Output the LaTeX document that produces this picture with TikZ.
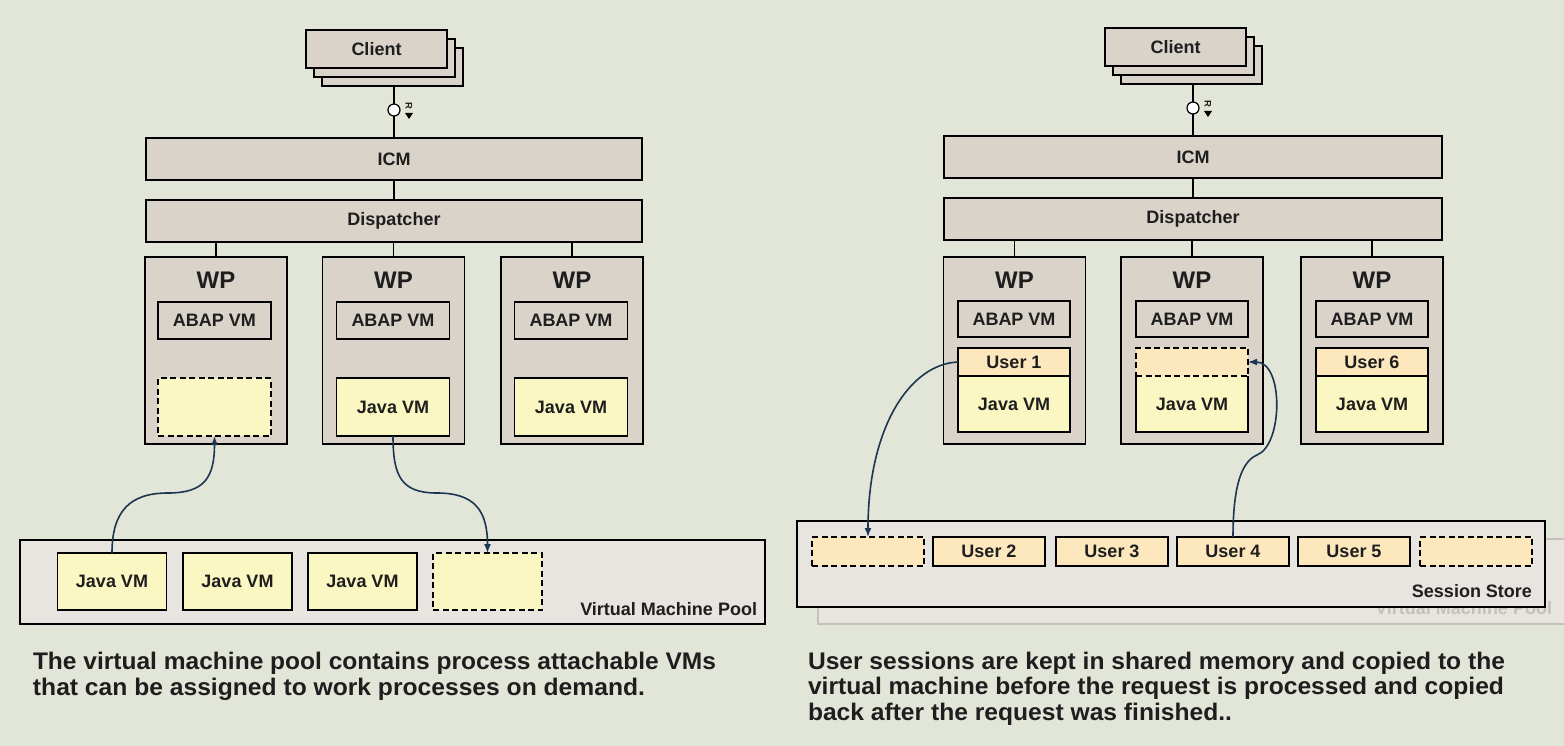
\documentclass[tikz,border=0pt]{standalone}
\usepackage{fontspec}
\setmainfont{Liberation Sans}
\usetikzlibrary{arrows.meta}
\definecolor{bg}{HTML}{E2E6D9}
\definecolor{boxfill}{HTML}{D9D3CA}
\definecolor{vmfill}{HTML}{FBF7C3}
\definecolor{userfill}{HTML}{FDE8BD}
\definecolor{poolfill}{HTML}{E8E4DF}
\definecolor{arrowc}{HTML}{1C3550}
\definecolor{txt}{HTML}{1E1E1E}
\definecolor{faint}{HTML}{C6C1B8}
\begin{document}
\begin{tikzpicture}[x=1pt,y=-1pt,
  every node/.style={inner sep=0pt, outer sep=0pt, text=txt},
  lbl/.style={font=\fontsize{18}{20}\selectfont\bfseries},
  gbox/.style={draw=black, line width=1.6pt, fill=boxfill, lbl},
  vmbox/.style={draw=black, line width=1.6pt, fill=vmfill, lbl},
  userbox/.style={draw=black, line width=1.6pt, fill=userfill, lbl},
  dashbox/.style={dash pattern=on 6pt off 3.5pt},
  poolbox/.style={draw=black, line width=1.6pt, fill=poolfill},
  faintbox/.style={draw=faint, line width=1.6pt, fill=poolfill},
  conn/.style={draw=black, line width=1.8pt},
  flow/.style={draw=arrowc, line width=1.6pt, -{Latex[length=9pt,width=7pt]}},
  iface/.style={circle, draw=black, fill=white, line width=1.2pt, minimum size=12pt},
  rsym/.style={rotate=-90, font=\fontsize{9.5}{9.5}\selectfont\bfseries},
  wplbl/.style={font=\fontsize{24}{26}\selectfont\bfseries},
  captxt/.style={font=\fontsize{24}{26}\selectfont\bfseries, anchor=base west},
  clientbox/.style={gbox, minimum width=141pt, minimum height=38pt},
  wpbox/.style={gbox, minimum width=142pt, minimum height=187pt},
  abapbox/.style={gbox, minimum width=113pt, minimum height=37pt},
  jvmbox/.style={vmbox, minimum width=113pt, minimum height=58pt},
  pvmbox/.style={vmbox, minimum width=109pt, minimum height=57pt},
  ubox/.style={userbox, minimum width=112pt, minimum height=28pt},
  rjvmbox/.style={vmbox, minimum width=112pt, minimum height=56pt},
  ssbox/.style={userbox, minimum width=112pt, minimum height=29pt}
]
\useasboundingbox (0,0) rectangle (1564,746);
\fill[bg] (0,0) rectangle (1564,746);

% ================= LEFT =================
\node[clientbox] (cl3) at (392.5,67) {};
\node[clientbox] (cl2) at (384.5,58) {};
\node[clientbox] (cl1) at (376.5,49) {Client};
\node[iface] (if1) at (394,110) {};
\node[rsym] (r1) at (409,106) {R};
\fill[black] (405,113) -- (413,113) -- (409,119) -- cycle;
\node[gbox, minimum width=496pt, minimum height=42pt] (icm1) at (394,159) {ICM};
\node[gbox, minimum width=496pt, minimum height=42pt] (disp1) at (394,221) {Dispatcher};
\draw[conn] (if1 |- cl3.south) -- (if1.north);
\draw[conn] (if1.south) -- (if1 |- icm1.north);
\draw[conn] (icm1) -- (disp1);

\node[wpbox] (wp1) at (216,350.5) {};
\node[wpbox] (wp2) at (393.5,350.5) {};
\node[wpbox] (wp3) at (572,350.5) {};
\foreach \w in {wp1,wp2,wp3} \draw[conn] (\w.north) -- (\w.north |- disp1.south);
\node[wplbl] (wpl1) at (216,280) {WP};
\node[wplbl] (wpl2) at (393.5,280) {WP};
\node[wplbl] (wpl3) at (572,280) {WP};
\node[abapbox] (ab1) at (214.5,320.5) {ABAP VM};
\node[abapbox] (ab2) at (393,320.5) {ABAP VM};
\node[abapbox] (ab3) at (571,320.5) {ABAP VM};
\node[jvmbox, dashbox] (slot1) at (214.5,407) {};
\node[jvmbox] (jv2) at (393,407) {Java VM};
\node[jvmbox] (jv3) at (571,407) {Java VM};

\node[poolbox, minimum width=745pt, minimum height=84pt] (pool1) at (392.5,582) {};
\node[lbl, anchor=base east] (pool1t) at (757,615) {Virtual Machine Pool};
\node[pvmbox] (pvm1) at (112,581.5) {Java VM};
\node[pvmbox] (pvm2) at (237.5,581.5) {Java VM};
\node[pvmbox] (pvm3) at (362.5,581.5) {Java VM};
\node[pvmbox, dashbox] (pvm4) at (487.5,581.5) {};

\coordinate (la1) at (168,493);
\draw[flow] (pvm1.north) .. controls +(0,-42) and +(-38,0) .. (la1) .. controls +(36,0) and +(0,42) .. (slot1.south);
\coordinate (la2) at (437,493);
\draw[flow] (jv2.south) .. controls +(0,40) and +(-36,0) .. (la2) .. controls +(38,0) and +(0,-42) .. (pvm4.north);

\node[captxt] (capL1) at (33,669) {\resizebox{683pt}{\height}{The virtual machine pool contains process attachable VMs}};
\node[captxt] (capL2) at (33,695) {\resizebox{612pt}{\height}{that can be assigned to work processes on demand.}};

% ================= RIGHT =================
\node[clientbox] (cr3) at (1191.5,65) {};
\node[clientbox] (cr2) at (1183.5,56) {};
\node[clientbox] (cr1) at (1175.5,47) {Client};
\node[iface] (if2) at (1193,108) {};
\node[rsym] (r2) at (1208,104) {R};
\fill[black] (1204,111) -- (1212,111) -- (1208,117) -- cycle;
\node[gbox, minimum width=498pt, minimum height=42pt] (icm2) at (1193,157) {ICM};
\node[gbox, minimum width=498pt, minimum height=42pt] (disp2) at (1193,219) {Dispatcher};
\draw[conn] (if2 |- cr3.south) -- (if2.north);
\draw[conn] (if2.south) -- (if2 |- icm2.north);
\draw[conn] (icm2) -- (disp2);

\node[wpbox] (wp4) at (1014.5,350.5) {};
\node[wpbox] (wp5) at (1192,350.5) {};
\node[wpbox] (wp6) at (1372,350.5) {};
\foreach \w in {wp4,wp5,wp6} \draw[conn] (\w.north) -- (\w.north |- disp2.south);
\node[wplbl] (wpl4) at (1014.5,280) {WP};
\node[wplbl] (wpl5) at (1192,280) {WP};
\node[wplbl] (wpl6) at (1372,280) {WP};
\node[abapbox, minimum width=112pt, minimum height=36pt] (ab4) at (1014,319) {ABAP VM};
\node[abapbox, minimum width=112pt, minimum height=36pt] (ab5) at (1192,319) {ABAP VM};
\node[abapbox, minimum width=112pt, minimum height=36pt] (ab6) at (1372,319) {ABAP VM};
\node[rjvmbox] (jv4) at (1014,404) {Java VM};
\node[ubox] (u1) at (1014,362) {User 1};
\node[rjvmbox, draw=none] (jv5) at (1192,404) {Java VM};
\draw[conn, line width=1.6pt] (jv5.north west) -- (jv5.south west) -- (jv5.south east) -- (jv5.north east);
\node[ubox, dashbox] (u2) at (1192,362) {};
\node[rjvmbox] (jv6) at (1372,404) {Java VM};
\node[ubox] (u6) at (1372,362) {User 6};

\node[faintbox, anchor=north west, minimum width=780pt, minimum height=85pt] (vmp2) at (818,539) {};
\node[lbl, text=faint, anchor=base east] (vmp2t) at (1552,614) {Virtual Machine Pool};
\node[poolbox, minimum width=748pt, minimum height=86pt] (ss) at (1171,564) {};
\node[lbl, anchor=base east] (sst) at (1532,597) {Session Store};
\node[ssbox, dashbox] (ss1) at (868,551.5) {};
\node[ssbox] (ss2) at (989,551.5) {User 2};
\node[ssbox] (ss3) at (1112,551.5) {User 3};
\node[ssbox] (ss4) at (1233,551.5) {User 4};
\node[ssbox] (ss5) at (1354,551.5) {User 5};
\node[ssbox, dashbox] (ss6) at (1476,551.5) {};

\draw[flow] (u1.west) .. controls +(-48,2) and +(0,-110) .. (ss1.north);
\coordinate (ra) at (1257,455);
\draw[flow] (ss4.north) .. controls +(0,-55) and +(-14,6) .. (ra) .. controls +(26,-10) and +(36,0) .. (u2.east);

\node[captxt] (capR1) at (808,669) {\resizebox{697pt}{\height}{User sessions are kept in shared memory and copied to the}};
\node[captxt] (capR2) at (808,694) {\resizebox{696pt}{\height}{virtual machine before the request is processed and copied}};
\node[captxt] (capR3) at (808,720) {\resizebox{424pt}{\height}{back after the request was finished..}};
\end{tikzpicture}
\end{document}
